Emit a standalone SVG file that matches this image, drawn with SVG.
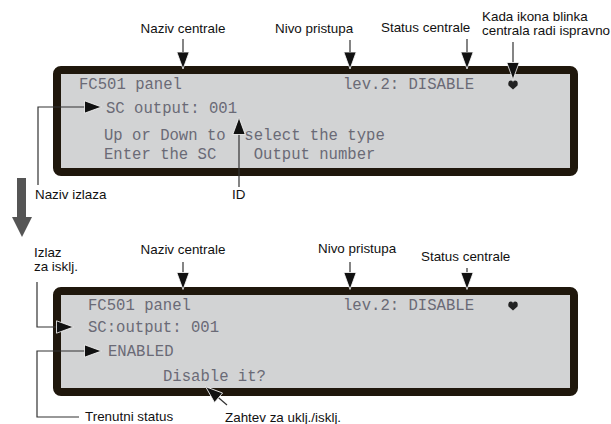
<svg xmlns="http://www.w3.org/2000/svg" width="611" height="424" viewBox="0 0 611 424">
<style>
.lbl{font-family:"Liberation Sans",Arial,sans-serif;font-size:13.4px;fill:#111}
.lcd{font-family:"Liberation Mono","DejaVu Sans Mono",monospace;font-size:15.6px;fill:#6a6a76}
.panel{fill:#d2d3d4;stroke:#1f170c;stroke-width:8}
.con{fill:none;stroke:#333;stroke-width:1.2}
.dot{fill:#222}
</style>
<defs>
<marker id="ah" viewBox="0 0 18 14" refX="17" refY="7" markerWidth="18" markerHeight="14" markerUnits="userSpaceOnUse" orient="auto">
<path d="M0.5,0.8 L17.5,7 L0.5,13.2 Z" fill="#111" stroke="#fff" stroke-width="0.8"/>
</marker>
</defs>
<rect x="0" y="0" width="611" height="424" fill="#fff"/>

<g id="panel1">
<rect class="panel" x="57" y="70" width="517" height="102" rx="4"/>
<text class="lcd" x="79" y="89">FC501 panel</text>
<text class="lcd" x="343" y="89">lev.2: DISABLE</text>
<path class="dot" d="M513,89.5 L508.5,85.5 Q507.5,80.5 511,80.5 Q513,80.5 513,82.5 Q513,80.5 515,80.5 Q518.5,80.5 517.5,85.5 Z"/>
<text class="lcd" x="106" y="112.5">SC output: 001</text>
<text class="lcd" x="104" y="140" xml:space="preserve">Up or Down to  select the type</text>
<text class="lcd" x="104" y="159" xml:space="preserve">Enter the SC    Output number</text>
</g>

<g id="panel2">
<rect class="panel" x="57" y="291" width="517" height="101" rx="4"/>
<text class="lcd" x="88" y="310">FC501 panel</text>
<text class="lcd" x="343" y="310">lev.2: DISABLE</text>
<path class="dot" d="M513,310.5 L508.5,306.5 Q507.5,301.5 511,301.5 Q513,301.5 513,303.5 Q513,301.5 515,301.5 Q518.5,301.5 517.5,306.5 Z"/>
<text class="lcd" x="88" y="332">SC:output: 001</text>
<text class="lcd" x="108" y="356">ENABLED</text>
<text class="lcd" x="163" y="381">Disable it?</text>
</g>

<g id="labels1">
<text class="lbl" x="183" y="33" text-anchor="middle">Naziv centrale</text>
<text class="lbl" x="275" y="33">Nivo pristupa</text>
<text class="lbl" x="381" y="32">Status centrale</text>
<text class="lbl" x="482" y="21">Kada ikona blinka</text>
<text class="lbl" x="482" y="35">centrala radi ispravno</text>
<text class="lbl" x="35" y="199">Naziv izlaza</text>
<text class="lbl" x="232" y="199">ID</text>
</g>

<g id="labels2">
<text class="lbl" x="34" y="257">Izlaz</text>
<text class="lbl" x="34" y="271">za isklj.</text>
<text class="lbl" x="183" y="254" text-anchor="middle">Naziv centrale</text>
<text class="lbl" x="318" y="253">Nivo pristupa</text>
<text class="lbl" x="421" y="261">Status centrale</text>
<text class="lbl" x="85" y="421">Trenutni status</text>
<text class="lbl" x="225" y="422">Zahtev za uklj./isklj.</text>
</g>

<g id="bigarrow">
<polygon points="17,178 26,178 26,217 32,217 22,237 12,217 17,217" fill="#555"/>
</g>

<g id="connectors">
<line class="con" x1="183" y1="39" x2="183" y2="68.5" marker-end="url(#ah)"/>
<line class="con" x1="350" y1="40" x2="350" y2="68.5" marker-end="url(#ah)"/>
<line class="con" x1="467" y1="39" x2="467" y2="68.5" marker-end="url(#ah)"/>
<line class="con" x1="513" y1="42" x2="513" y2="79" marker-end="url(#ah)"/>
<polyline class="con" points="38,185 38,107 101,107" marker-end="url(#ah)"/>
<line class="con" x1="239" y1="187" x2="239" y2="118" marker-end="url(#ah)"/>

<line class="con" x1="183" y1="262" x2="183" y2="289" marker-end="url(#ah)"/>
<line class="con" x1="350" y1="262" x2="350" y2="289" marker-end="url(#ah)"/>
<line class="con" x1="467" y1="268" x2="467" y2="289" marker-end="url(#ah)"/>
<polyline class="con" points="37,282 37,327 73,327" marker-end="url(#ah)"/>
<polyline class="con" points="79,417 37,417 37,351 101,351" marker-end="url(#ah)"/>
<line class="con" x1="227" y1="405" x2="206" y2="387" marker-end="url(#ah)"/>
</g>
</svg>
